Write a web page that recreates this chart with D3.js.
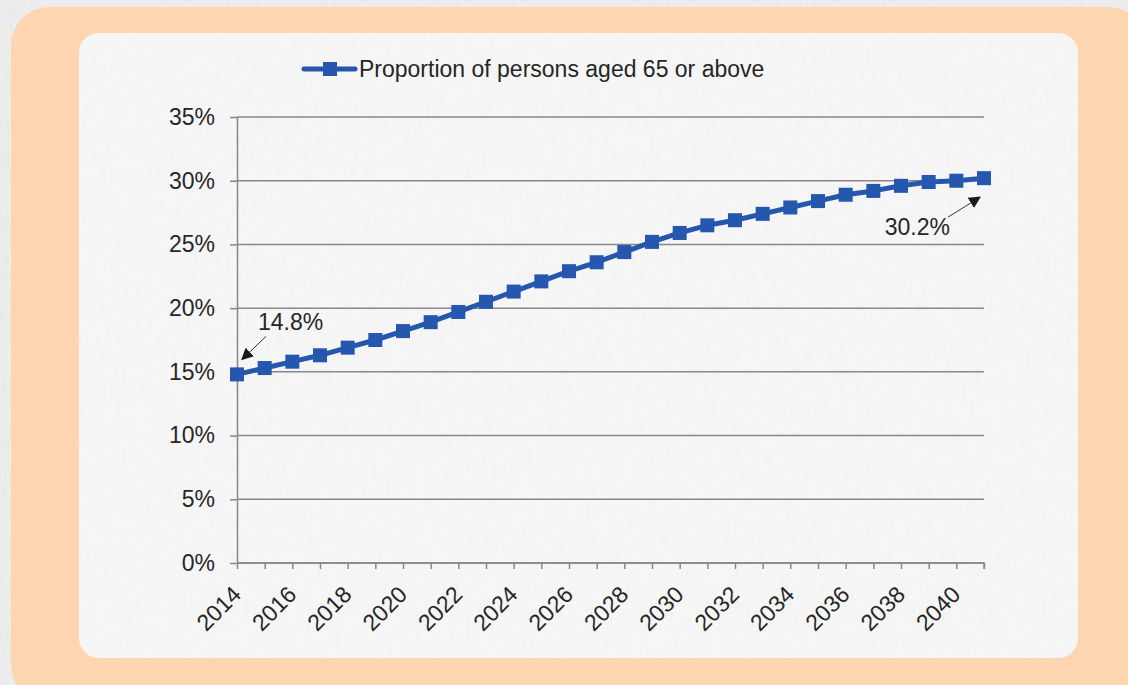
<!DOCTYPE html>
<html>
<head>
<meta charset="utf-8">
<script src="https://d3js.org/d3.v7.min.js"></script>
<style>
  body { margin: 0; background: #ececec; }
  svg { display: block; font-family: "Liberation Sans", Arial, sans-serif; }
</style>
</head>
<body>
<div id="chart"></div>
<script>
// data
var years = [2014, 2015, 2016, 2017, 2018, 2019, 2020, 2021, 2022, 2023, 2024, 2025, 2026, 2027,
             2028, 2029, 2030, 2031, 2032, 2033, 2034, 2035, 2036, 2037, 2038, 2039, 2040, 2041];
var share = [14.8, 15.3, 15.8, 16.3, 16.9, 17.5, 18.2, 18.9, 19.7, 20.5, 21.3, 22.1, 22.9, 23.6,
             24.4, 25.2, 25.9, 26.5, 26.9, 27.4, 27.9, 28.4, 28.9, 29.2, 29.6, 29.9, 30.0, 30.2];
var yTicks = [0, 5, 10, 15, 20, 25, 30, 35];
var seriesName = "Proportion of persons aged 65 or above";
var callouts = [{i: 0, label: "14.8%"}, {i: 27, label: "30.2%"}];

var width = 1128, height = 685;
var blue = "#2457ad", grid = "#888888", ink = "#262626";

var svg = d3.select("#chart").append("svg")
  .attr("width", width)
  .attr("height", height);

var defs = svg.append("defs");
var f = defs.append("filter").attr("id", "grain")
  .attr("x", 0).attr("y", 0).attr("width", "100%").attr("height", "100%");
f.append("feTurbulence").attr("type", "fractalNoise")
  .attr("baseFrequency", "0.3 0.06").attr("numOctaves", 3).attr("seed", 4);
f.append("feColorMatrix").attr("type", "matrix")
  .attr("values", "0 0 0 0 0.6  0 0 0 0 0.6  0 0 0 0 0.6  1.6 0 0 0 -0.7");
f.append("feComposite").attr("operator", "in").attr("in2", "SourceGraphic");

defs.append("marker").attr("id", "arrow")
  .attr("viewBox", "0 0 10 10").attr("refX", 9).attr("refY", 5)
  .attr("markerWidth", 12).attr("markerHeight", 12)
  .attr("markerUnits", "userSpaceOnUse")
  .attr("orient", "auto")
  .append("path").attr("d", "M0,0 L10,5 L0,10 z").attr("fill", "#1a1a1a");

// backgrounds
svg.append("rect").attr("width", width).attr("height", height).attr("fill", "#ededed");
svg.append("rect").attr("width", width).attr("height", height)
  .attr("fill", "#fff").attr("filter", "url(#grain)").attr("opacity", 0.2);
svg.append("rect").attr("x", 11).attr("y", 7).attr("width", 1135).attr("height", 695)
  .attr("rx", 38).attr("fill", "#fdd6b1");
svg.append("rect").attr("x", 79).attr("y", 33).attr("width", 999).attr("height", 625)
  .attr("rx", 20).attr("fill", "#f6f6f6");
svg.append("rect").attr("x", 79).attr("y", 33).attr("width", 999).attr("height", 625)
  .attr("rx", 20).attr("fill", "#fff").attr("filter", "url(#grain)").attr("opacity", 0.12);

var x = d3.scalePoint().domain(years).range([237, 984]);
var y = d3.scaleLinear().domain([0, 35]).range([563, 117]);

// gridlines
svg.append("g").selectAll("line")
  .data(yTicks)
  .enter().append("line")
  .attr("x1", 237).attr("x2", 984)
  .attr("y1", function(d) { return y(d); })
  .attr("y2", function(d) { return y(d); })
  .attr("stroke", grid).attr("stroke-width", 1.5);

// y axis
var ya = svg.append("g")
  .attr("transform", "translate(237,0)")
  .call(d3.axisLeft(y).tickValues(yTicks).tickSize(7).tickSizeOuter(0).tickPadding(15)
    .tickFormat(function(d) { return d + "%"; }));
ya.selectAll("path, line").attr("stroke", grid).attr("stroke-width", 1.5);
ya.selectAll("text").attr("fill", ink).style("font-size", "23px")
  .style("font-family", "'Liberation Sans', Arial, sans-serif");

// x axis
var xa = svg.append("g")
  .attr("transform", "translate(0,563)")
  .call(d3.axisBottom(x).tickSize(6).tickSizeOuter(0)
    .tickFormat(function(d) { return d % 2 === 0 ? d : ""; }));
xa.select(".domain").attr("d", "M237,0H984V6");
xa.selectAll("path, line").attr("stroke", grid).attr("stroke-width", 1.5);
xa.selectAll("text")
  .attr("y", 0).attr("dy", null)
  .attr("text-anchor", "end")
  .attr("transform", "translate(5,33) rotate(-45)")
  .attr("fill", ink).style("font-size", "23px")
  .style("font-family", "'Liberation Sans', Arial, sans-serif");

// series
var line = d3.line()
  .x(function(d, i) { return x(years[i]); })
  .y(function(d) { return y(d); });

svg.append("path")
  .datum(share)
  .attr("fill", "none")
  .attr("stroke", blue)
  .attr("stroke-width", 5)
  .attr("stroke-linejoin", "round")
  .attr("d", line);

svg.append("g").selectAll("rect")
  .data(share)
  .enter().append("rect")
  .attr("x", function(d, i) { return x(years[i]) - 7; })
  .attr("y", function(d) { return y(d) - 7; })
  .attr("width", 14).attr("height", 14)
  .attr("fill", blue);

// callouts
var first = callouts[0], last = callouts[1];
var px = x(years[first.i]), py = y(share[first.i]);
svg.append("text").attr("x", px + 21).attr("y", py - 44)
  .attr("fill", ink).style("font-size", "23px").text(first.label);
svg.append("line").attr("x1", px + 29).attr("y1", py - 38).attr("x2", px + 5).attr("y2", py - 15)
  .attr("stroke", "#333").attr("stroke-width", 1).attr("marker-end", "url(#arrow)");

px = x(years[last.i]); py = y(share[last.i]);
svg.append("text").attr("x", px - 34).attr("y", py + 57).attr("text-anchor", "end")
  .attr("fill", ink).style("font-size", "23px").text(last.label);
svg.append("line").attr("x1", px - 36).attr("y1", py + 39).attr("x2", px - 4).attr("y2", py + 19)
  .attr("stroke", "#333").attr("stroke-width", 1).attr("marker-end", "url(#arrow)");

// legend
var lg = svg.append("g").attr("transform", "translate(304,69)");
lg.append("line").attr("x1", 0).attr("x2", 51).attr("y1", 0).attr("y2", 0)
  .attr("stroke", blue).attr("stroke-width", 5).attr("stroke-linecap", "round");
lg.append("rect").attr("x", 19).attr("y", -7).attr("width", 14).attr("height", 14).attr("fill", blue);
lg.append("text").attr("x", 55).attr("y", 8)
  .attr("fill", ink).style("font-size", "23px").text(seriesName);
</script>
</body>
</html>
